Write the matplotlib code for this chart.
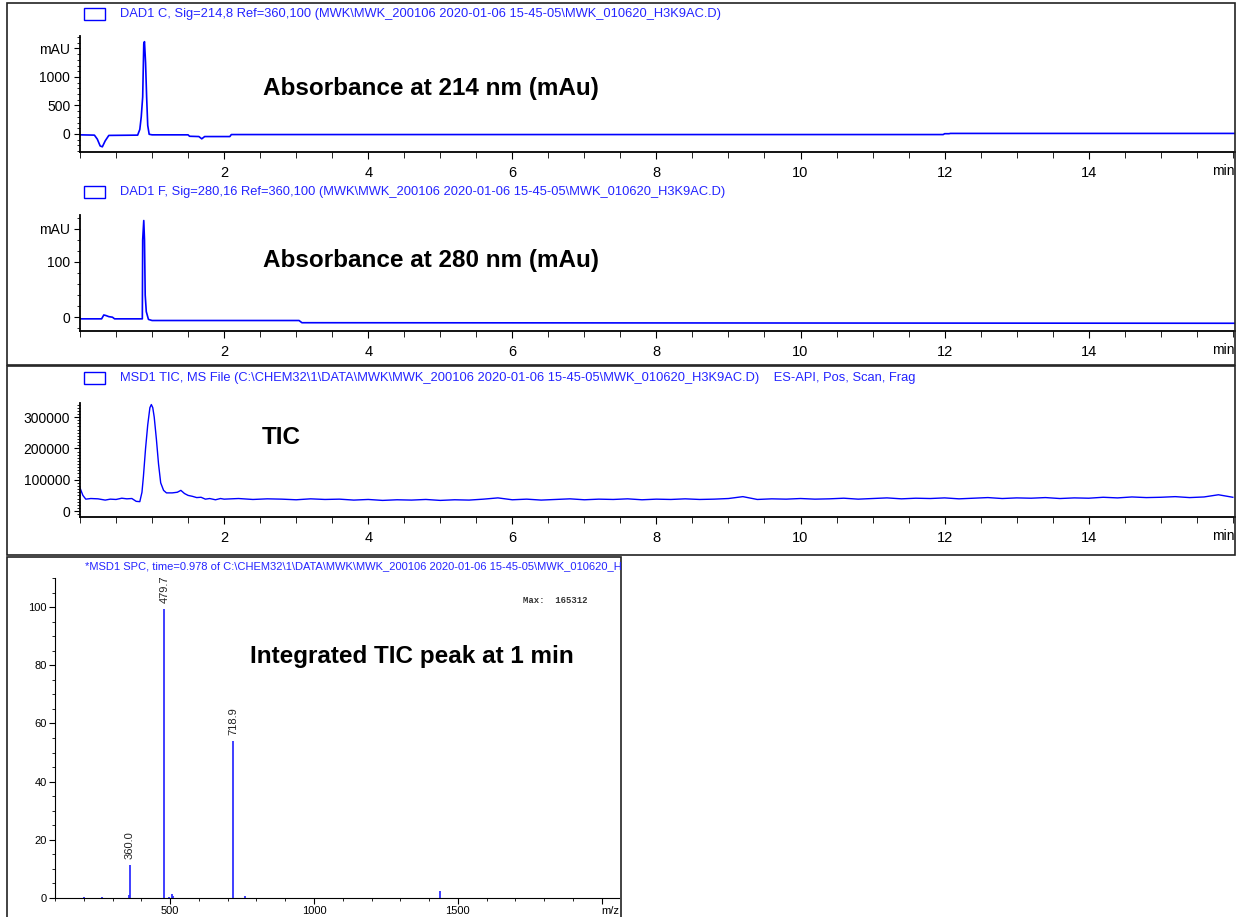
import matplotlib
matplotlib.use('Agg')
import matplotlib.pyplot as plt
from matplotlib.patches import Rectangle
from matplotlib.ticker import MultipleLocator

# ---- data ----
dad214_t = [0.0, 0.2, 0.24, 0.28, 0.31, 0.35, 0.4, 0.8, 0.83, 0.85, 0.87, 0.885,
            0.895, 0.91, 0.925, 0.94, 0.96, 1.0, 1.5, 1.52, 1.65, 1.69, 1.73,
            2.08, 2.1, 11.98, 12.0, 12.06, 12.08, 16.03]
dad214 = [-15, -20, -90, -210, -225, -120, -25, -20, 80, 300, 650, 1580,
          1620, 1250, 640, 150, -5, -15, -15, -40, -45, -85, -45,
          -45, -10, -10, 5, 5, 10, 10]

dad280_t = [0.0, 0.3, 0.33, 0.36, 0.4, 0.45, 0.48, 0.865, 0.87, 0.885, 0.895,
            0.905, 0.92, 0.95, 1.0, 3.04, 3.08, 16.03]
dad280 = [-3, -3, 4, 3, 1, 0, -3, -3, 140, 175, 140, 40, 10, -4, -6, -6, -10, -11]

tic_t = [0.0, 0.04, 0.08, 0.15, 0.25, 0.35, 0.42, 0.5, 0.58, 0.65, 0.72, 0.78,
         0.83, 0.86, 0.88, 0.91, 0.94, 0.97, 0.99, 1.01, 1.03, 1.06, 1.09, 1.12,
         1.16, 1.2, 1.28, 1.35, 1.4, 1.45, 1.5, 1.56, 1.62, 1.68, 1.74, 1.8,
         1.88, 1.95,
         2.0, 2.2, 2.4, 2.6, 2.8, 3.0, 3.2, 3.4, 3.6, 3.8, 4.0, 4.2, 4.4, 4.6,
         4.8, 5.0, 5.2, 5.4, 5.6, 5.8, 6.0, 6.2, 6.4, 6.6, 6.8, 7.0, 7.2, 7.4,
         7.6, 7.8, 8.0, 8.2, 8.4, 8.6, 8.8, 9.0, 9.2, 9.4, 9.6, 9.8, 10.0, 10.2,
         10.4, 10.6, 10.8, 11.0, 11.2, 11.4, 11.6, 11.8, 12.0, 12.2, 12.4, 12.6,
         12.8, 13.0, 13.2, 13.4, 13.6, 13.8, 14.0, 14.2, 14.4, 14.6, 14.8, 15.0,
         15.2, 15.4, 15.6, 15.8, 16.0]
tic = [74000, 50000, 38000, 40000, 39000, 35000, 38000, 37000, 41000, 39000, 40000, 31000,
       30000, 60000, 110000, 200000, 275000, 330000, 340000, 330000, 300000, 230000, 150000, 90000,
       66000, 58000, 58000, 60000, 66000, 56000, 50000, 47000, 43000, 44000, 38000, 40000,
       36000, 40000,
       38000, 40000, 37000, 39000, 38000, 36000, 39000, 37000, 38000, 35000, 37000, 34000, 36000, 35000,
       37000, 34000, 36000, 35000, 38000, 42000, 36000, 38000, 35000, 37000, 39000, 36000, 38000, 37000,
       39000, 36000, 38000, 37000, 39000, 37000, 38000, 40000, 46000, 37000, 39000, 38000, 40000, 38000,
       39000, 41000, 38000, 40000, 42000, 39000, 41000, 40000, 42000, 39000, 41000, 43000,
       40000, 42000, 41000, 43000, 40000, 42000, 41000, 44000, 42000, 45000, 43000, 44000,
       46000, 43000, 45000, 52000, 44000]

ms_mz = [200, 262, 356, 360.0, 479.7, 495, 505, 509, 718.9, 760, 1439.5]
ms_int = [0.3, 0.4, 1.0, 11.5, 99.5, 0.5, 1.3, 0.8, 54.0, 0.8, 2.5]
ms_labels = [360.0, 479.7, 718.9]

hdr1 = r'DAD1 C, Sig=214,8 Ref=360,100 (MWK\MWK_200106 2020-01-06 15-45-05\MWK_010620_H3K9AC.D)'
hdr2 = r'DAD1 F, Sig=280,16 Ref=360,100 (MWK\MWK_200106 2020-01-06 15-45-05\MWK_010620_H3K9AC.D)'
hdr3 = (r'MSD1 TIC, MS File (C:\CHEM32\1\DATA\MWK\MWK_200106 2020-01-06 15-45-05\MWK_010620_H3K9AC.D)'
        '    ES-API, Pos, Scan, Frag')
hdr4 = r'*MSD1 SPC, time=0.978 of C:\CHEM32\1\DATA\MWK\MWK_200106 2020-01-06 15-45-05\MWK_010620_H3K9AC.D'

# ---- layout ----
W, H = 1241, 917
plt.rcParams['font.family'] = ['Liberation Sans', 'DejaVu Sans']
fig = plt.figure(figsize=(W / 100, H / 100), dpi=100)
blue = '#0000ff'
hblue = '#2424ff'


def px_axes(l, t, r, b):
    return fig.add_axes([l / W, 1 - b / H, (r - l) / W, (b - t) / H])


def frame(l, t, r, b):
    fig.add_artist(Rectangle((l / W, 1 - b / H), (r - l) / W, (b - t) / H,
                             transform=fig.transFigure, fill=False,
                             edgecolor='#222222', linewidth=1.2))


def header(x, y, text, size=9.3):
    fig.add_artist(Rectangle((x / W, 1 - (y + 6) / H), 21 / W, 12 / H,
                             transform=fig.transFigure, fill=False,
                             edgecolor=blue, linewidth=1.0))
    fig.text((x + 36) / W, 1 - y / H, text, color=hblue, fontsize=size, va='center')


def style_chrom(ax):
    for s in ['top', 'right']:
        ax.spines[s].set_visible(False)
    ax.spines['left'].set_linewidth(1.3)
    ax.spines['bottom'].set_linewidth(1.3)
    ax.set_xlim(0, 16.03)
    ax.set_xticks([2, 4, 6, 8, 10, 12, 14])
    ax.xaxis.set_minor_locator(MultipleLocator(0.5))
    ax.tick_params(axis='x', which='major', length=5, pad=5, labelsize=10.5)
    ax.tick_params(axis='x', which='minor', length=4)
    ax.tick_params(axis='y', which='major', length=4, pad=3, labelsize=10)
    ax.tick_params(axis='y', which='minor', length=2.5)
    ax.annotate('min', xy=(1, 0), xycoords='axes fraction', xytext=(0, -14),
                textcoords='offset points', ha='right', va='center', fontsize=10)


frame(7, 3, 1235, 365)
frame(7, 366, 1235, 555)
frame(7, 557, 621, 920)

big = dict(fontsize=17.5, fontweight='bold', va='center')

# panel 1
ax1 = px_axes(80, 36, 1235, 152)
ax1.plot(dad214_t, dad214, color=blue, lw=1.2)
ax1.set_ylim(-316, 1719)
ax1.set_yticks([0, 500, 1000, 1500])
ax1.set_yticklabels(['0', '500', '1000', 'mAU'])
ax1.yaxis.set_minor_locator(MultipleLocator(100))
style_chrom(ax1)
header(84, 14, hdr1)
fig.text(263 / W, 1 - 89 / H, 'Absorbance at 214 nm (mAu)', **big)

# panel 2
ax2 = px_axes(80, 215, 1235, 331)
ax2.plot(dad280_t, dad280, color=blue, lw=1.2)
ax2.set_ylim(-25, 185)
ax2.set_yticks([0, 100, 160])
ax2.set_yticklabels(['0', '100', 'mAU'])
ax2.yaxis.set_minor_locator(MultipleLocator(20))
style_chrom(ax2)
header(84, 192, hdr2)
fig.text(263 / W, 1 - 261 / H, 'Absorbance at 280 nm (mAu)', **big)

# panel 3
ax3 = px_axes(80, 403, 1235, 517)
ax3.plot(tic_t, tic, color=blue, lw=1.0)
ax3.set_ylim(-19000, 345000)
ax3.set_yticks([0, 100000, 200000, 300000])
ax3.set_yticklabels(['0', '100000', '200000', '300000'])
ax3.yaxis.set_minor_locator(MultipleLocator(10000))
style_chrom(ax3)
header(84, 378, hdr3)
fig.text(262 / W, 1 - 437 / H, 'TIC', **big)

# panel 4
ax4 = px_axes(55, 578, 619, 898)
ax4.vlines(ms_mz, 0, ms_int, color='#3030ff', lw=1.3)
for m, v in zip(ms_mz, ms_int):
    if m in ms_labels:
        ax4.annotate('%.1f' % m, (m, v), xytext=(0, 4), textcoords='offset points',
                     rotation=90, ha='center', va='bottom', fontsize=8, color='#222222')
ax4.set_xlim(100, 2060)
ax4.set_ylim(0, 110)
ax4.set_xticks([500, 1000, 1500, 2000])
ax4.set_xticklabels(['500', '1000', '1500', ''])
ax4.xaxis.set_minor_locator(MultipleLocator(100))
ax4.set_yticks([0, 20, 40, 60, 80, 100])
ax4.yaxis.set_minor_locator(MultipleLocator(5))
for s in ['top', 'right']:
    ax4.spines[s].set_visible(False)
ax4.tick_params(axis='both', which='major', length=4, labelsize=8, pad=2)
ax4.tick_params(axis='both', which='minor', length=2.5)
ax4.annotate('m/z', xy=(1, 0), xycoords='axes fraction', xytext=(0, -9),
             textcoords='offset points', ha='right', va='center', fontsize=8)
ax4.text(0.945, 0.93, 'Max:  165312', transform=ax4.transAxes, ha='right', va='center',
         fontsize=6.5, family='Liberation Mono', fontweight='bold', color='#333333')
t4 = fig.text(85 / W, 1 - 566 / H, hdr4, color=hblue, fontsize=8, va='center')
t4.set_clip_path(Rectangle((7, 0), 614, H, transform=None))
fig.text(250 / W, 1 - 657 / H, 'Integrated TIC peak at 1 min', **big)

fig.savefig('out.png', dpi=100)
